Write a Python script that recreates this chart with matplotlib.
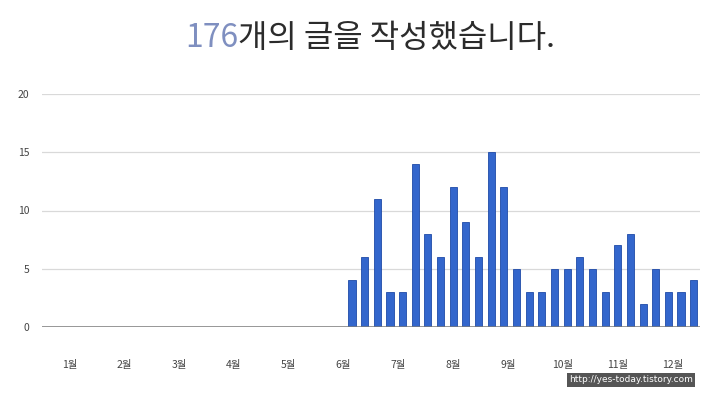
import matplotlib
matplotlib.use("Agg")
import matplotlib.pyplot as plt

plt.rcParams['font.family'] = ['Noto Sans CJK KR', 'DejaVu Sans']

# weekly post counts (52 weeks)
weekly_posts = [0, 0, 0, 0, 0, 0, 0, 0, 0, 0, 0, 0, 0,
                0, 0, 0, 0, 0, 0, 0, 0, 0, 0, 0,
                4, 6, 11, 3, 3, 14, 8, 6, 12, 9, 6, 15, 12, 5,
                3, 3, 5, 5, 6, 5, 3, 7, 8, 2, 5, 3, 3, 4]
month_labels = ['1월', '2월', '3월', '4월', '5월', '6월',
                '7월', '8월', '9월', '10월', '11월', '12월']
y_ticks = [0, 5, 10, 15, 20]
total_posts = "176"
title_rest = "개의 글을 작성했습니다."
watermark = "http://yes-today.tistory.com"

n_weeks = len(weekly_posts)

fig = plt.figure(figsize=(7.2, 3.98), dpi=100)
ax = fig.add_axes([42/720, 71/398, 658/720, 233/398])

xs = [i + 0.5 for i in range(n_weeks)]
heights = [v for v in weekly_posts]
ax.bar(xs, heights, width=0.56, color='#3366cc', edgecolor='#1f4aa8', linewidth=0.6, zorder=3)

ax.set_xlim(0, n_weeks)
ax.set_ylim(0, 20)
ax.set_yticks(y_ticks)
ax.set_yticklabels([str(t) for t in y_ticks], fontsize=7.5, color='#444444')
ax.tick_params(axis='y', length=0, pad=9)
ax.grid(axis='y', color='#d9d9d9', linewidth=0.9, zorder=0)
ax.axhline(0, color='#7a7a7a', linewidth=1.8, zorder=4)

month_pos = [(m + 0.5) * n_weeks / 12 for m in range(12)]
ax.set_xticks(month_pos)
ax.set_xticklabels(month_labels, fontsize=7.5, color='#444444')
ax.tick_params(axis='x', length=0, pad=24)

for s in ax.spines.values():
    s.set_visible(False)

fig.text(238/720, 1 - 38/398, total_posts, ha='right', va='center',
         fontsize=23, color='#7f8fc0', fontweight='light')
fig.text(238/720, 1 - 38/398, title_rest, ha='left', va='center',
         fontsize=23, color='#2b2b2b', fontweight='light')

fig.text(631/720, 1 - 380/398, watermark, ha='center', va='center',
         fontsize=6.5, color='white', family=['DejaVu Sans'],
         bbox=dict(boxstyle='square,pad=0.25', facecolor='#555555', edgecolor='none'))

fig.savefig('out.png', dpi=100)
